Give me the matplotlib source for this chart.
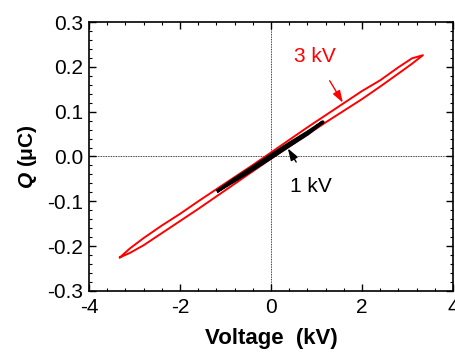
import matplotlib
matplotlib.use("Agg")
import matplotlib.pyplot as plt
from matplotlib.ticker import MultipleLocator

plt.rcParams['font.family'] = ['Liberation Sans', 'DejaVu Sans']
plt.rcParams['mathtext.fontset'] = 'custom'
plt.rcParams['mathtext.bfit'] = 'Liberation Sans:italic:bold'
plt.rcParams['mathtext.rm'] = 'Liberation Sans'
plt.rcParams['axes.unicode_minus'] = False

# 3 kV loop: rising branch then falling branch
v3_rise = [-3.32, -3.1, -2.8, -2.4, -2.0, -1.6, -1.2, -0.8, -0.4, 0.0, 0.4, 0.8, 1.2, 1.6, 2.0, 2.4, 2.8, 3.1, 3.34]
q3_rise = [-0.225, -0.215, -0.198, -0.171, -0.144, -0.117, -0.089, -0.061, -0.033, -0.005, 0.022, 0.049, 0.076, 0.102, 0.128, 0.156, 0.185, 0.207, 0.226]
v3_fall = [3.34, 3.1, 2.8, 2.4, 2.0, 1.6, 1.2, 0.8, 0.4, 0.0, -0.4, -0.8, -1.2, -1.6, -2.0, -2.4, -2.8, -3.1, -3.32]
q3_fall = [0.226, 0.219, 0.199, 0.170, 0.146, 0.119, 0.092, 0.065, 0.037, 0.009, -0.019, -0.046, -0.073, -0.100, -0.128, -0.154, -0.182, -0.205, -0.225]

# 1 kV loop
v1_rise = [-1.16, -0.8, -0.4, 0.0, 0.4, 0.8, 1.14]
q1_rise = [-0.076, -0.054, -0.029, -0.003, 0.024, 0.050, 0.077]
v1_fall = [1.14, 0.8, 0.4, 0.0, -0.4, -0.8, -1.16]
q1_fall = [0.077, 0.054, 0.029, 0.003, -0.024, -0.050, -0.076]

fig = plt.figure(figsize=(4.55, 3.52), dpi=100)
ax = fig.add_axes([0.1956, 0.1733, 0.8, 0.7642])

ax.axhline(0, color='black', lw=0.6, ls=(0, (1, 1)))
ax.axvline(0, color='black', lw=0.6, ls=(0, (1, 1)))

ax.plot(v3_rise + v3_fall, q3_rise + q3_fall, color='#ff0000', lw=1.4)
ax.plot(v1_rise + v1_fall, q1_rise + q1_fall, color='black', lw=2.4)

ax.annotate('3 kV', xy=(1.58, 0.12), xytext=(0.97, 0.223), color='#ff0000',
            fontsize=15, ha='center', va='center',
            arrowprops=dict(arrowstyle='-|>,head_length=0.6,head_width=0.2',
                            color='#ff0000', lw=1.0,
                            shrinkA=10, shrinkB=0, mutation_scale=12))
ax.annotate('1 kV', xy=(0.37, 0.018), xytext=(0.88, -0.066), color='black',
            fontsize=15, ha='center', va='center',
            arrowprops=dict(arrowstyle='-|>,head_length=0.6,head_width=0.2',
                            color='black', lw=1.0,
                            shrinkA=10, shrinkB=0, mutation_scale=12))

ax.set_xlim(-4, 4)
ax.set_ylim(-0.3, 0.3)
ax.xaxis.set_major_locator(MultipleLocator(2))
ax.xaxis.set_minor_locator(MultipleLocator(0.4))
ax.yaxis.set_major_locator(MultipleLocator(0.1))
ax.yaxis.set_minor_locator(MultipleLocator(0.02))
ax.yaxis.set_major_formatter(plt.FormatStrFormatter('%.1f'))
ax.tick_params(which='both', direction='in', top=True, right=True, labelsize=15)
ax.tick_params(which='major', length=5, width=1)
ax.tick_params(which='minor', length=2.5, width=0.8)
ax.tick_params(axis='x', pad=5)
ax.tick_params(axis='y', pad=4)
for s in ax.spines.values():
    s.set_linewidth(1.2)

ax.set_xlabel('Voltage  (kV)', fontsize=16, fontweight='bold', labelpad=8)
ax.set_ylabel(r'$\bfit{Q}$ (μC)', fontsize=15, fontweight='bold', labelpad=6)

fig.savefig('out.png', dpi=100)
